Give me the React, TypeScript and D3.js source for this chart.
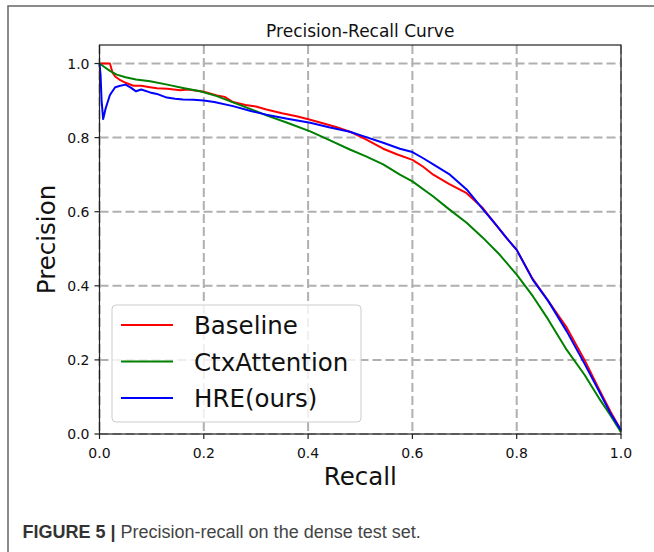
import React from 'react';
import * as d3 from 'd3';

// Precision-recall points: [recall, precision]
const baseline: [number, number][] = [
  [0, 1.0], [0.005, 1.0], [0.02, 1.0], [0.025, 0.975], [0.03, 0.965], [0.04, 0.955],
  [0.05, 0.948], [0.065, 0.94], [0.08, 0.94], [0.097, 0.936], [0.11, 0.933], [0.13, 0.932],
  [0.155, 0.928], [0.17, 0.93], [0.19, 0.926], [0.2, 0.924], [0.225, 0.914], [0.24, 0.91],
  [0.256, 0.896], [0.28, 0.888], [0.3, 0.884], [0.32, 0.876], [0.35, 0.866], [0.38, 0.857],
  [0.404, 0.848], [0.43, 0.838], [0.455, 0.828], [0.48, 0.816], [0.51, 0.796], [0.544, 0.77],
  [0.57, 0.755], [0.6, 0.74], [0.62, 0.722], [0.64, 0.70], [0.67, 0.675], [0.704, 0.65],
  [0.735, 0.61], [0.76, 0.565], [0.78, 0.53], [0.8, 0.497], [0.83, 0.42], [0.86, 0.36],
  [0.896, 0.287], [0.93, 0.2], [0.96, 0.115], [0.98, 0.06], [1.0, 0.01],
];

const ctxAttention: [number, number][] = [
  [0, 1.0], [0.01, 0.99], [0.02, 0.98], [0.033, 0.97], [0.05, 0.963], [0.07, 0.957],
  [0.097, 0.952], [0.13, 0.943], [0.16, 0.934], [0.193, 0.925], [0.225, 0.912], [0.256, 0.895],
  [0.29, 0.877], [0.32, 0.86], [0.36, 0.84], [0.404, 0.817], [0.44, 0.794], [0.48, 0.768],
  [0.51, 0.75], [0.544, 0.728], [0.576, 0.70], [0.6, 0.682], [0.64, 0.641], [0.67, 0.607],
  [0.704, 0.57], [0.735, 0.53], [0.768, 0.483], [0.8, 0.43], [0.831, 0.372], [0.86, 0.31],
  [0.896, 0.227], [0.93, 0.16], [0.96, 0.092], [0.98, 0.05], [1.0, 0.005],
];

const hre: [number, number][] = [
  [0, 1.0], [0.002, 0.97], [0.004, 0.9], [0.007, 0.85], [0.012, 0.88], [0.02, 0.915],
  [0.03, 0.936], [0.04, 0.94], [0.05, 0.943], [0.06, 0.935], [0.07, 0.925], [0.08, 0.93],
  [0.097, 0.922], [0.11, 0.918], [0.129, 0.908], [0.145, 0.905], [0.16, 0.903], [0.18, 0.902],
  [0.2, 0.9], [0.22, 0.896], [0.256, 0.885], [0.29, 0.872], [0.32, 0.862], [0.36, 0.851],
  [0.404, 0.84], [0.44, 0.828], [0.48, 0.816], [0.51, 0.802], [0.544, 0.786], [0.576, 0.77],
  [0.6, 0.761], [0.62, 0.745], [0.64, 0.728], [0.672, 0.70], [0.704, 0.66], [0.735, 0.607],
  [0.76, 0.565], [0.78, 0.53], [0.8, 0.497], [0.831, 0.416], [0.86, 0.36], [0.896, 0.277],
  [0.93, 0.19], [0.96, 0.11], [0.98, 0.055], [1.0, 0.01],
];

const seriesNames = ['Baseline', 'CtxAttention', 'HRE(ours)'];
const seriesColors = ['#ff0000', '#008000', '#0000ff'];
const ticks = [0, 0.2, 0.4, 0.6, 0.8, 1.0];

const W = 654;
const H = 552;
const plot = { left: 99.5, right: 621, top: 45, bottom: 434 };
const font = 'DejaVu Sans';

export default function App() {
  const x = d3.scaleLinear().domain([0, 1]).range([plot.left, plot.right]);
  const y = d3.scaleLinear().domain([0, 1.05]).range([plot.bottom, plot.top]);
  const line = d3.line<[number, number]>()
    .x(d => x(d[0]))
    .y(d => y(d[1]));
  const series = [baseline, ctxAttention, hre];

  return (
    <div style={{ position: 'absolute', left: 0, top: 0 }}>
      <svg width={W} height={H} style={{ display: 'block', background: '#fff' }}>
        {/* figure frame */}
        <rect x={8} y={6} width={700} height={600} fill="none" stroke="#666" strokeWidth={1.5} />

        <text x={(plot.left + plot.right) / 2} y={37} textAnchor="middle" fontFamily={font} fontSize={17} fill="#111">
          Precision-Recall Curve
        </text>

        {/* grid */}
        {ticks.map(t => (
          <g key={`g-${t}`} stroke="#b0b0b0" strokeWidth={2} strokeDasharray="9,4">
            <line x1={x(t)} x2={x(t)} y1={plot.top} y2={plot.bottom} />
            <line x1={plot.left} x2={plot.right} y1={y(t)} y2={y(t)} />
          </g>
        ))}

        {/* curves */}
        {series.map((s, i) => (
          <path key={seriesNames[i]} d={line(s) || ''} fill="none" stroke={seriesColors[i]} strokeWidth={2} strokeLinejoin="round" />
        ))}

        {/* spines */}
        <rect x={plot.left} y={plot.top} width={plot.right - plot.left} height={plot.bottom - plot.top}
          fill="none" stroke="#222" strokeWidth={1.2} />

        {/* ticks */}
        {ticks.map(t => (
          <g key={`t-${t}`}>
            <line x1={x(t)} x2={x(t)} y1={plot.bottom} y2={plot.bottom + 5} stroke="#222" strokeWidth={1.2} />
            <text x={x(t)} y={plot.bottom + 24} textAnchor="middle" fontFamily={font} fontSize={14} fill="#111">
              {t.toFixed(1)}
            </text>
            <line x1={plot.left - 5} x2={plot.left} y1={y(t)} y2={y(t)} stroke="#222" strokeWidth={1.2} />
            <text x={plot.left - 10} y={y(t) + 5} textAnchor="end" fontFamily={font} fontSize={14} fill="#111">
              {t.toFixed(1)}
            </text>
          </g>
        ))}

        <text x={(plot.left + plot.right) / 2} y={485} textAnchor="middle" fontFamily={font} fontSize={24.5} fill="#111">
          Recall
        </text>
        <text transform={`translate(55, ${(plot.top + plot.bottom) / 2}) rotate(-90)`} textAnchor="middle"
          fontFamily={font} fontSize={24.5} fill="#111">
          Precision
        </text>

        {/* legend */}
        <rect x={112} y={305} width={249} height={117} rx={4} fill="#fff" fillOpacity={0.8} stroke="#cccccc" strokeWidth={1} />
        {seriesNames.map((name, i) => {
          const ly = 325 + i * 36.5;
          return (
            <g key={`l-${name}`}>
              <line x1={121} x2={173} y1={ly} y2={ly} stroke={seriesColors[i]} strokeWidth={2} />
              <text x={194} y={ly + 9} fontFamily={font} fontSize={24.5} fill="#111">{name}</text>
            </g>
          );
        })}

        {/* caption */}
        <text x={22.5} y={538} fontFamily="Liberation Sans" fontSize={18} fill="#444">
          <tspan fontWeight="bold" fill="#333">FIGURE 5 | </tspan>
          <tspan>Precision-recall on the dense test set.</tspan>
        </text>
      </svg>
    </div>
  );
}
